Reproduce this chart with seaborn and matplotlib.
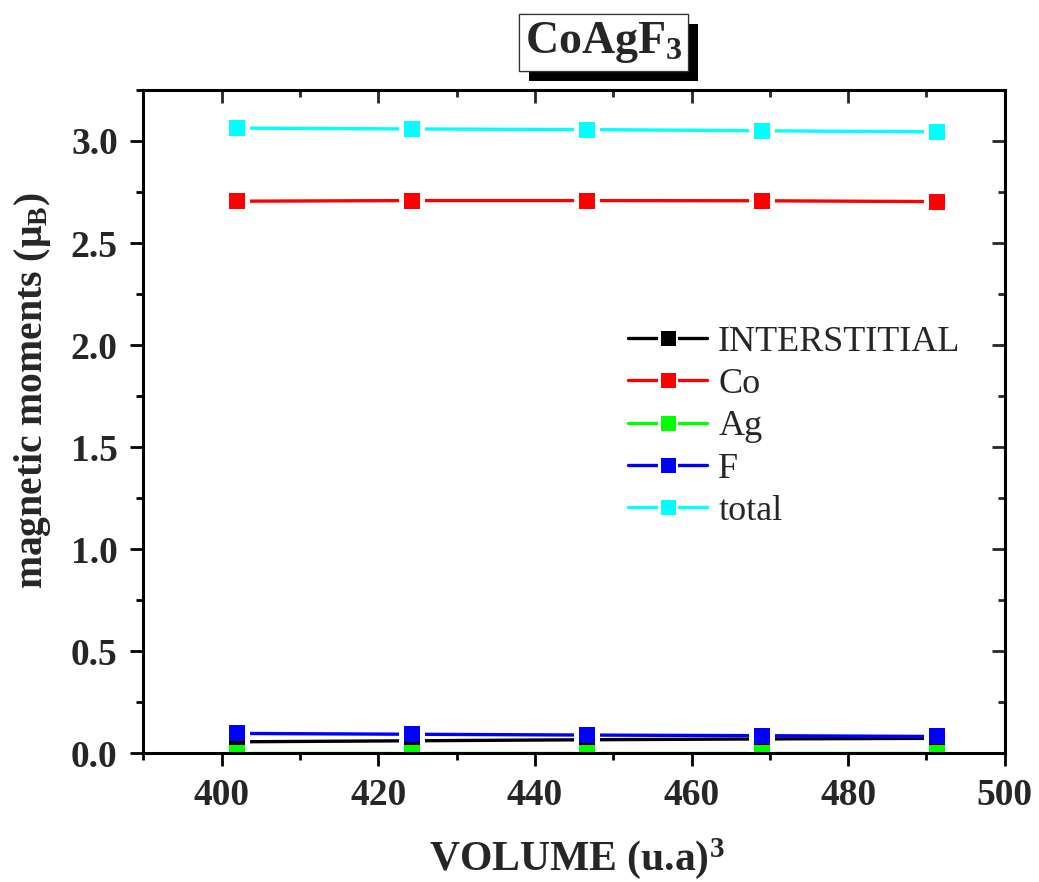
import matplotlib
matplotlib.use("Agg")
import matplotlib.pyplot as plt
import matplotlib.patheffects as pe
from matplotlib.lines import Line2D
from matplotlib.legend_handler import HandlerTuple
from matplotlib.ticker import MultipleLocator
import numpy as np
import pandas as pd
import seaborn as sns

# ---------------- data ----------------
volume = [402.0, 424.35, 446.7, 469.0, 491.4]
interstitial = [0.056, 0.061, 0.066, 0.070, 0.073]
co = [2.705, 2.708, 2.708, 2.707, 2.703]
ag = [0.003, 0.003, 0.003, 0.003, 0.003]
f_vals = [0.097, 0.093, 0.089, 0.086, 0.082]
total = [3.063, 3.059, 3.056, 3.050, 3.045]

series_names = ["INTERSTITIAL", "Co", "Ag", "F", "total"]
series_values = [interstitial, co, ag, f_vals, total]
series_colors = ["#000000", "#FF0000", "#00FF00", "#0000FF", "#00FFFF"]
marker_z = [4, 4, 6, 5, 4]

title_text = "CoAgF$_\\mathbf{3}$"
xlabel_text = "VOLUME (u.a)$^\\mathbf{3}$"
ylabel_text = "magnetic moments (\u03bc$_\\mathbf{B}$)"

# ---------------- style ----------------
sns.set_theme(style="ticks")
plt.rcParams["font.family"] = ["Liberation Serif", "DejaVu Serif"]
plt.rcParams["mathtext.fontset"] = "custom"
plt.rcParams["mathtext.rm"] = "Liberation Serif:bold"
plt.rcParams["mathtext.bf"] = "Liberation Serif:bold"
plt.rcParams["mathtext.it"] = "Liberation Serif:bold"

fig = plt.figure(figsize=(10.39, 8.82), dpi=100)
ax = fig.add_axes([0.138, 0.146, 0.829, 0.752])

frames = []
for name, vals in zip(series_names, series_values):
    frames.append(pd.DataFrame({"volume": volume, "moment": vals, "series": name}))
df = pd.concat(frames, ignore_index=True)
palette = dict(zip(series_names, series_colors))

# lines
sns.lineplot(data=df, x="volume", y="moment", hue="series", palette=palette,
             hue_order=series_names, linewidth=2.4, legend=False, ax=ax,
             zorder=2)

# white halos (gap between line and marker)
for name in series_names:
    sub = df[df["series"] == name]
    sns.scatterplot(data=sub, x="volume", y="moment", marker="s", s=340,
                    color="white", linewidth=0, legend=False, ax=ax, zorder=3)

# colored markers
for name, z in zip(series_names, marker_z):
    sub = df[df["series"] == name]
    sns.scatterplot(data=sub, x="volume", y="moment", marker="s", s=118,
                    color=palette[name], linewidth=0, legend=False, ax=ax,
                    zorder=z)

ax.set_xlim(390, 500)
ax.set_ylim(0, 3.25)
ax.xaxis.set_major_locator(MultipleLocator(20))
ax.xaxis.set_minor_locator(MultipleLocator(10))
ax.yaxis.set_major_locator(MultipleLocator(0.5))
ax.yaxis.set_minor_locator(MultipleLocator(0.25))

for sp in ax.spines.values():
    sp.set_visible(True)
    sp.set_linewidth(2.2)
    sp.set_color("black")
    sp.set_zorder(10)

ax.tick_params(axis="both", which="major", direction="out", length=9.5,
               width=2.0, color="black", labelsize=27,
               top=False, right=False)
ax.tick_params(axis="x", which="major", pad=8)
ax.tick_params(axis="y", which="major", pad=9)
ax.tick_params(axis="both", which="minor", direction="out", length=5,
               width=2.0, color="black", top=False, right=False)
for lab in ax.get_xticklabels() + ax.get_yticklabels():
    lab.set_fontweight("bold")

# inward ticks on top and right
secx = ax.secondary_xaxis("top")
secx.xaxis.set_major_locator(MultipleLocator(20))
secx.xaxis.set_minor_locator(MultipleLocator(10))
secx.tick_params(which="major", direction="in", length=9.5, width=2.0, labeltop=False)
secx.tick_params(which="minor", direction="in", length=5, width=2.0)
secx.spines["top"].set_visible(False)
secy = ax.secondary_yaxis("right")
secy.yaxis.set_major_locator(MultipleLocator(0.5))
secy.yaxis.set_minor_locator(MultipleLocator(0.25))
secy.tick_params(which="major", direction="in", length=9.5, width=2.0, labelright=False)
secy.tick_params(which="minor", direction="in", length=5, width=2.0)
secy.spines["right"].set_visible(False)

ax.set_xlabel(xlabel_text, fontsize=30, fontweight="bold")
ax.set_ylabel(ylabel_text, fontsize=28.5, fontweight="bold")
ax.xaxis.set_label_coords(0.503, -0.125)
ax.yaxis.set_label_coords(-0.105, 0.546)

# legend
handles = []
for name, col in zip(series_names, series_colors):
    ln = Line2D([], [], color=col, linewidth=2.4)
    halo = Line2D([], [], color="white", marker="s", markersize=15,
                  linestyle="none", markeredgewidth=0)
    mk = Line2D([], [], color=col, marker="s", markersize=10.8,
                linestyle="none", markeredgewidth=0)
    handles.append((ln, halo, mk))
leg = ax.legend(handles, series_names,
                handler_map={tuple: HandlerTuple(ndivide=1, pad=0)},
                loc="upper left", bbox_to_anchor=(0.5625, 0.645),
                frameon=False, fontsize=26, handlelength=2.2,
                handletextpad=0.3, labelspacing=0.25, borderpad=0,
                borderaxespad=0)

# title box with shadow
t = fig.text(0.5807, 0.952, title_text, ha="center", va="center",
             fontsize=33, fontweight="bold",
             bbox=dict(boxstyle="square,pad=0.13", fc="white", ec="#333333", lw=0.9))
t.get_bbox_patch().set_path_effects([
    pe.withSimplePatchShadow(offset=(7.5, -7.5), shadow_rgbFace="black", alpha=1.0),
    pe.Normal()])

fig.savefig("out.png", dpi=100)
